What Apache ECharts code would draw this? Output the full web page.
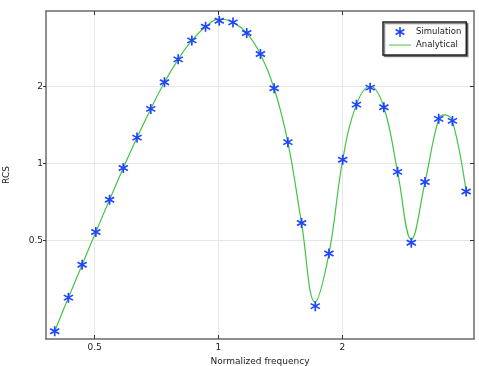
<!DOCTYPE html>
<html><head><meta charset="utf-8">
<script src="https://cdn.jsdelivr.net/npm/echarts@6/dist/echarts.min.js"></script>
<style>html,body{margin:0;padding:0;background:#fff}#c{width:479px;height:366px}</style>
</head><body><div id="c"></div>
<script>
// Simulation samples (normalized frequency, RCS)
const simFreq = [0.4, 0.4319, 0.4664, 0.5036, 0.5438, 0.5872, 0.6341, 0.6847, 0.7393, 0.7983,
  0.8618, 0.9306, 1.0048, 1.0850, 1.1716, 1.2649, 1.3659, 1.4749, 1.5924, 1.7196,
  1.8566, 2.0048, 2.1647, 2.3375, 2.5240, 2.7253, 2.9428, 3.1776, 3.4311, 3.7048, 4.0];
const simRCS = [0.222, 0.300, 0.403, 0.541, 0.722, 0.960, 1.262, 1.632, 2.073, 2.547,
  3.019, 3.411, 3.600, 3.548, 3.224, 2.671, 1.965, 1.211, 0.586, 0.278,
  0.446, 1.034, 1.696, 1.975, 1.657, 0.928, 0.491, 0.847, 1.493, 1.466, 0.778];
// Analytical curve samples
const anaFreq = [0.4, 0.4319, 0.4664, 0.5036, 0.5438, 0.5872, 0.6341, 0.6847, 0.7393, 0.7983,
  0.8618, 0.9306, 1.0048, 1.0850, 1.1716, 1.2649, 1.3659, 1.4749, 1.5924, 1.717,
  1.8566, 2.0048, 2.1647, 2.3375, 2.5240, 2.7253, 2.9428, 3.1776, 3.4311, 3.551, 3.7048, 4.0];
const anaRCS = [0.222, 0.300, 0.403, 0.541, 0.722, 0.960, 1.262, 1.632, 2.073, 2.547,
  3.019, 3.411, 3.66, 3.548, 3.224, 2.671, 1.965, 1.211, 0.586, 0.288,
  0.446, 1.034, 1.696, 2.00, 1.657, 0.928, 0.505, 0.847, 1.493, 1.547, 1.466, 0.778];
const xTicks = [0.5, 1, 2];
const yTicks = [0.5, 1, 2];
const xRange = [0.381, 4.18];
const yRange = [0.207, 3.93];

const font = 'DejaVu Sans';
const fmt = v => String(parseFloat(Number(v).toPrecision(6)));
const star = 'path://M11.6,0L11.6,20L8.4,20L8.4,0ZM2.14,3.614L19.46,13.614L17.86,16.386L0.54,6.386ZM19.46,6.386L2.14,16.386L0.54,13.614L17.86,3.614Z';
const lineIcon = 'path://M0,0L0,0ZM0,4.4L22,4.4L22,5.6L0,5.6ZM22,10L22,10Z';

const chart = echarts.init(document.getElementById('c'), null, {renderer: 'canvas'});
const axisLine = {show: true, lineStyle: {color: '#6b6b6b', width: 1.5}};
const tickStyle = {color: '#333', width: 1};
chart.setOption({
  animation: false,
  backgroundColor: '#fff',
  grid: {left: 46, right: 5, top: 11, bottom: 27, containLabel: false, outerBoundsMode: 'none'},
  legend: {
    left: 383, top: 22, orient: 'vertical',
    itemWidth: 22, itemHeight: 10, itemGap: 3,
    padding: [5, 5, 5, 6],
    backgroundColor: '#fff', borderColor: '#222', borderWidth: 1.5,
    shadowColor: 'rgba(0,0,0,0.45)', shadowOffsetX: 1.5, shadowOffsetY: 1.5, shadowBlur: 0,
    textStyle: {fontFamily: font, fontSize: 8.5, color: '#222'},
    data: [
      {name: 'Simulation', icon: star, itemStyle: {color: '#1f45ff'}},
      {name: 'Analytical', icon: lineIcon, itemStyle: {color: '#44c444'}}
    ]
  },
  xAxis: [{
    type: 'log', logBase: 2, min: xRange[0], max: xRange[1], position: 'bottom',
    name: 'Normalized frequency', nameLocation: 'middle', nameGap: 12,
    nameTextStyle: {fontFamily: font, fontSize: 9, color: '#222'},
    axisLine: axisLine,
    axisTick: {show: true, inside: true, length: 4, lineStyle: tickStyle, customValues: xTicks},
    axisLabel: {show: true, margin: 4, fontFamily: font, fontSize: 9, color: '#222', formatter: fmt, customValues: xTicks},
    splitLine: {show: true, lineStyle: {color: '#e6e6e6', width: 1}},
    minorTick: {show: false}
  }, {
    type: 'log', logBase: 2, min: xRange[0], max: xRange[1], position: 'top',
    axisLine: axisLine,
    axisTick: {show: true, inside: true, length: 4, lineStyle: tickStyle, customValues: xTicks},
    axisLabel: {show: false, customValues: xTicks},
    splitLine: {show: false}
  }],
  yAxis: [{
    type: 'log', logBase: 2, min: yRange[0], max: yRange[1], position: 'left',
    name: 'RCS', nameLocation: 'middle', nameGap: 35, nameRotate: 90,
    nameTextStyle: {fontFamily: font, fontSize: 9, color: '#222'},
    axisLine: axisLine,
    axisTick: {show: true, inside: false, length: 3, lineStyle: tickStyle, customValues: yTicks},
    axisLabel: {show: true, margin: 3, fontFamily: font, fontSize: 9, color: '#222', formatter: fmt, customValues: yTicks},
    splitLine: {show: true, lineStyle: {color: '#e6e6e6', width: 1}}
  }, {
    type: 'log', logBase: 2, min: yRange[0], max: yRange[1], position: 'right',
    axisLine: axisLine,
    axisTick: {show: true, inside: true, length: 4, lineStyle: tickStyle, customValues: yTicks},
    axisLabel: {show: false, customValues: yTicks},
    splitLine: {show: false}
  }],
  series: [{
    name: 'Analytical', type: 'line', xAxisIndex: 0, yAxisIndex: 0,
    data: anaFreq.map((f, i) => [f, anaRCS[i]]),
    showSymbol: false, symbol: 'none', smooth: 0.4,
    lineStyle: {color: '#44c444', width: 1.2},
    itemStyle: {color: '#44c444'}, z: 2
  }, {
    name: 'Simulation', type: 'scatter', xAxisIndex: 0, yAxisIndex: 0,
    data: simFreq.map((f, i) => [f, simRCS[i]]),
    symbol: star, symbolSize: 10,
    itemStyle: {color: '#1f45ff', opacity: 1}, z: 3
  }]
});
</script></body></html>
